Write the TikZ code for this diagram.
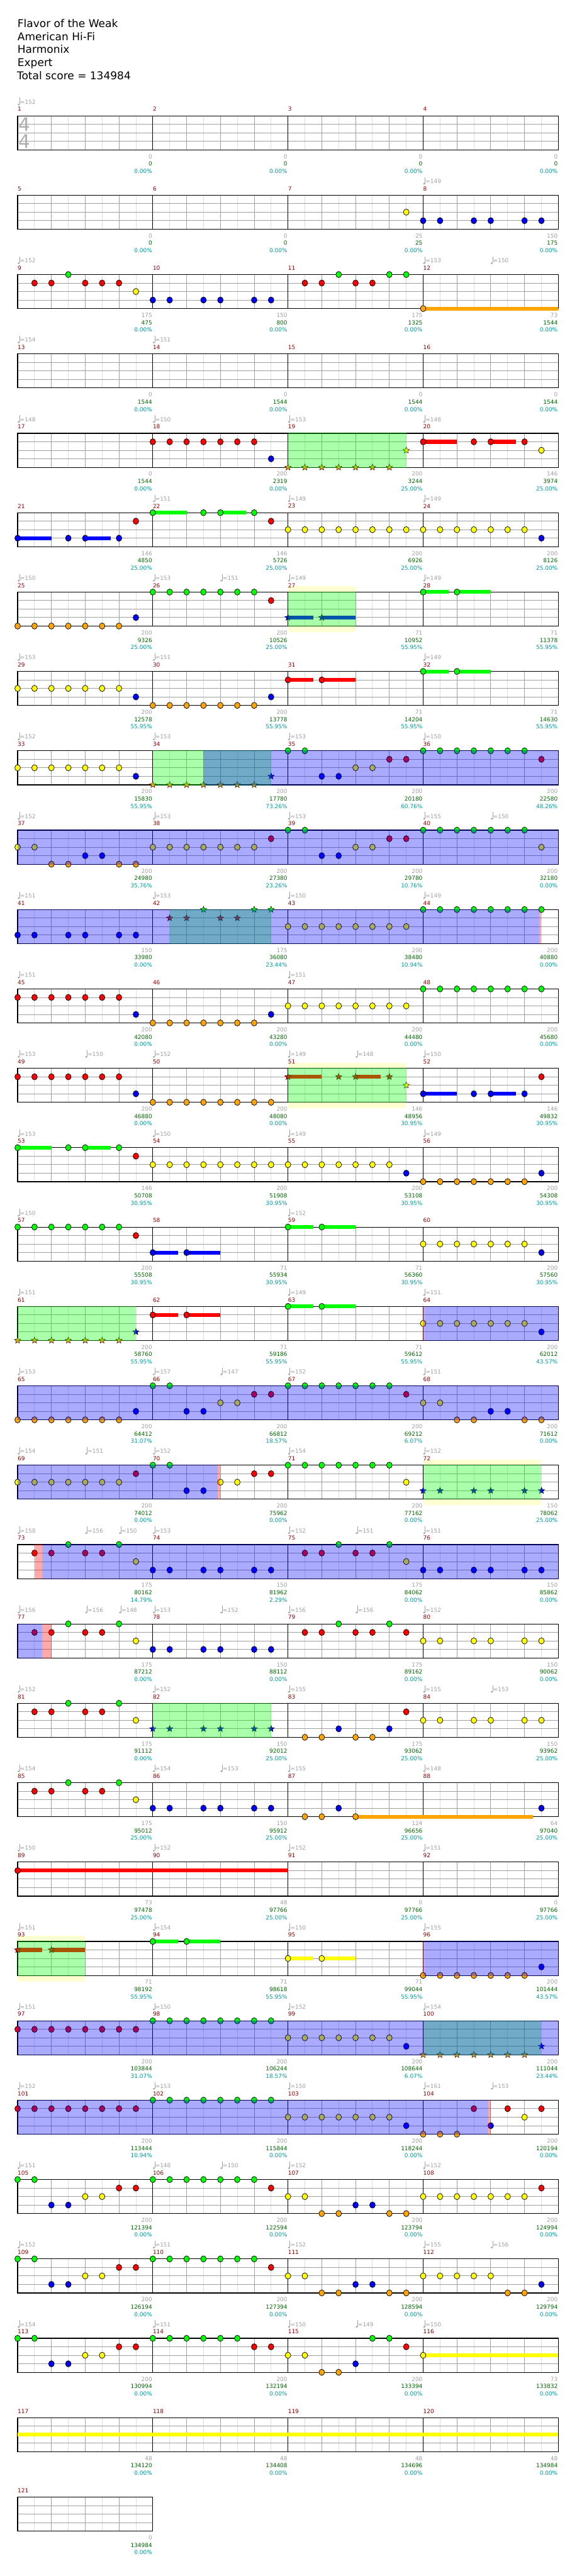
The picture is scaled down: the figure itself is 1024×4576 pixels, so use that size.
\documentclass[tikz,border=0pt]{standalone}
\usepackage{fontspec}
\setmainfont{DejaVu Sans}
\usetikzlibrary{shapes.geometric}
\definecolor{cg}{RGB}{0,255,0}
\definecolor{cr}{RGB}{255,0,0}
\definecolor{cy}{RGB}{255,255,0}
\definecolor{cb}{RGB}{0,0,255}
\definecolor{co}{RGB}{255,165,0}
\definecolor{mred}{RGB}{139,0,0}
\definecolor{tgray}{RGB}{160,160,160}
\definecolor{sgreen}{RGB}{0,100,0}
\definecolor{tcyan}{RGB}{0,153,153}
\definecolor{lgridc}{RGB}{221,221,221}
\definecolor{dgridc}{RGB}{160,160,160}
\definecolor{ybg}{RGB}{255,255,210}
\definecolor{tsig}{RGB}{175,175,175}
\tikzset{
 notec/.style={draw=black,line width=0.8},
 starn/.style={star,star points=5,star point ratio=2.3,minimum size=12,inner sep=0,draw=black,line width=0.5},
 lgrid/.style={lgridc,line width=1},
 dgrid/.style={dgridc,line width=1},
 mnum/.style={anchor=west,inner sep=0,text=mred,font=\fontsize{10}{12}\selectfont},
 tpn/.style={anchor=west,inner sep=0,text=tgray,font=\fontsize{10}{12}\selectfont},
 lgry/.style={anchor=east,inner sep=0,text=tgray,font=\fontsize{10}{12}\selectfont},
 lgrn/.style={anchor=east,inner sep=0,text=sgreen,font=\fontsize{10}{12}\selectfont},
 lcyn/.style={anchor=east,inner sep=0,text=tcyan,font=\fontsize{10}{12}\selectfont},
 ttl/.style={anchor=base west,inner sep=0,font=\fontsize{19}{23}\selectfont},
 ovl/.style={opacity=0.333}
}
\newcommand\nt[4]{\foreach \p in {#4}{\filldraw[notec,fill=#3] ({31.3+30*\p},{205.7+141*#1+15.1*#2}) ellipse (5 and 5.5);}}
\newcommand\st[4]{\foreach \p in {#4}{\node[starn,fill=#3] at ({31.3+30*\p},{205.7+141*#1+15.1*#2}) {};}}
\newcommand\sus[5]{\fill[#3] ({31.3+30*#4},{205.7+141*#1+15.1*#2-3.4}) rectangle ({31.3+30*#4+#5},{205.7+141*#1+15.1*#2+3.4});}
\newcommand\staffbase[4]{%
 \pgfmathsetmacro\rT{205.7+141*#1}%
 \fill[white] (31.3,\rT) rectangle (#2,{\rT+60.5});
 \foreach \k in {#3} \draw[lgrid] ({31.3+30*\k},\rT) -- ({31.3+30*\k},{\rT+60.5});
 \foreach \k in {#4} \draw[dgrid] ({31.3+30*\k},\rT) -- ({31.3+30*\k},{\rT+60.5});
 \foreach \l in {1,2,3} \draw[dgrid] (31.3,{\rT+15.1*\l}) -- (#2,{\rT+15.1*\l});
}
\newcommand\staff[1]{%
 \staffbase{#1}{991.3}{1,3,...,31}{2,4,6,10,12,14,18,20,22,26,28,30}%
 \pgfmathsetmacro\rT{205.7+141*#1}%
 \foreach \k in {8,16,24} \draw[black,line width=1] ({31.3+30*\k},\rT) -- ({31.3+30*\k},{\rT+60.5});
 \draw[black,line width=1.3] (31.3,\rT) rectangle (991.3,{\rT+60.5});
}
\newcommand\ml[5]{%
 \pgfmathsetmacro\rT{205.7+141*#1}%
 \pgfmathsetmacro\xm{31.3+240*#2}%
 \pgfmathtruncatemacro\mn{4*#1+#2+1}%
 \node[mnum] (m\mn) at (\xm,{\rT-11.7}) {\mn};
 \node[lgry] (g\mn) at ({\xm+239},{\rT+72.3}) {#3};
 \node[lgrn] (s\mn) at ({\xm+239},{\rT+85.3}) {#4};
 \node[lcyn] (c\mn) at ({\xm+239},{\rT+98.3}) {#5\%};
}
\newcommand\rl[2]{\foreach \qa/\qb/\qc/\qd in {#2}{\ml{#1}{\qa}{\qb}{\qc}{\qd}}}
\newcommand\tp[3]{%
 \pgfmathsetmacro\rT{205.7+141*#1}%
 \pgfmathsetmacro\xm{31.3+30*#2}%
 \fill[tgray] ({\xm+1.8},{\rT-20.2}) ellipse (1.9 and 1.5);
 \draw[tgray,line width=0.8] ({\xm+3.4},{\rT-20.5}) -- ({\xm+3.4},{\rT-32});
 \node[tpn] at ({\xm+4.2},{\rT-24.7}) {=#3};
}
\newcommand\tps[2]{\foreach \qe/\qf in {#2}{\tp{#1}{\qe}{\qf}}}
\newcommand\ov[4]{\pgfmathsetmacro\rT{205.7+141*#1}\fill[#4,ovl] (#2,{\rT-0.7}) rectangle (#3,{\rT+61.2});}
\newcommand\yb[3]{\pgfmathsetmacro\rT{205.7+141*#1}\fill[ybg] (#2,{\rT-10}) rectangle (#3,{\rT+71});}
\begin{document}
\begin{tikzpicture}[x=1pt,y=-1pt]
\useasboundingbox (0,0) rectangle (1024,4576);
\fill[white] (0,0) rectangle (1024,4576);
% title
\node[ttl] (t1) at (31,48.5) {Flavor of the Weak};
\node[ttl] (t2) at (31,71.7) {American Hi-Fi};
\node[ttl] (t3) at (31,94.9) {Harmonix};
\node[ttl] (t4) at (31,118.1) {Expert};
\node[ttl] (t5) at (30,141.3) {Total score = 134984};
% yellow backgrounds
\yb{6}{511.3}{631.3}
\yb{12}{511.3}{721.3}
\yb{17}{751.3}{961.3}
\yb{23}{31.3}{151.3}
% staffs
\foreach \r in {0,...,29} {\staff{\r}}
\staffbase{30}{271.3}{1,3,5,7}{2,4,6}
\draw[black,line width=1.3] (31.3,4435.7) rectangle (271.3,4496.2);
% time signature
\node[inner sep=0,text=tsig,font=\fontsize{33}{33}\selectfont] (ts1) at (44,221.3) {4};
\node[inner sep=0,text=tsig,font=\fontsize{33}{33}\selectfont] (ts2) at (44,250.8) {4};
% tempos
\tps{0}{0/152}
\tps{1}{24/149}
\tps{2}{0/152,24/153,28/150}
\tps{3}{0/154,8/151}
\tps{4}{0/148,8/150,16/153,24/148}
\tps{5}{8/151,16/149,24/149}
\tps{6}{0/150,8/153,12/151,16/149,24/149}
\tps{7}{0/153,8/151,24/149}
\tps{8}{0/152,8/153,16/153,24/150}
\tps{9}{0/152,8/153,16/153,24/155,28/150}
\tps{10}{0/151,8/153,16/150,24/149}
\tps{11}{0/151,16/151}
\tps{12}{0/153,4/150,8/152,16/149,20/148,24/150}
\tps{13}{0/153,8/150,16/149,24/149}
\tps{14}{0/150,16/152}
\tps{15}{0/151,16/149,24/151}
\tps{16}{0/153,8/157,12/147,16/152,24/151}
\tps{17}{0/154,4/151,8/152,16/154,24/152}
\tps{18}{0/158,4/156,6/150,8/153,16/152,20/151,24/151}
\tps{19}{0/156,4/156,6/148,8/153,12/152,16/156,20/156,24/152}
\tps{20}{0/152,8/152,16/155,24/155,28/153}
\tps{21}{0/154,8/154,12/153,16/155,24/148}
\tps{22}{0/150,8/152,16/152,24/151}
\tps{23}{0/151,8/154,16/150,24/155}
\tps{24}{0/151,8/150,16/152,24/154}
\tps{25}{0/152,8/153,16/150,24/161,28/153}
\tps{26}{0/151,8/148,12/150,16/152,24/152}
\tps{27}{0/152,8/151,16/152,24/155,28/156}
\tps{28}{0/154,8/151,16/150,20/149,24/150}
% labels
\rl{0}{0/0/0/0.00,1/0/0/0.00,2/0/0/0.00,3/0/0/0.00}
\rl{1}{0/0/0/0.00,1/0/0/0.00,2/25/25/0.00,3/150/175/0.00}
\rl{2}{0/175/475/0.00,1/150/800/0.00,2/175/1325/0.00,3/73/1544/0.00}
\rl{3}{0/0/1544/0.00,1/0/1544/0.00,2/0/1544/0.00,3/0/1544/0.00}
\rl{4}{0/0/1544/0.00,1/200/2319/0.00,2/200/3244/25.00,3/146/3974/25.00}
\rl{5}{0/146/4850/25.00,1/146/5726/25.00,2/200/6926/25.00,3/200/8126/25.00}
\rl{6}{0/200/9326/25.00,1/200/10526/25.00,2/71/10952/55.95,3/71/11378/55.95}
\rl{7}{0/200/12578/55.95,1/200/13778/55.95,2/71/14204/55.95,3/71/14630/55.95}
\rl{8}{0/200/15830/55.95,1/200/17780/73.26,2/200/20180/60.76,3/200/22580/48.26}
\rl{9}{0/200/24980/35.76,1/200/27380/23.26,2/200/29780/10.76,3/200/32180/0.00}
\rl{10}{0/150/33980/0.00,1/175/36080/23.44,2/200/38480/10.94,3/200/40880/0.00}
\rl{11}{0/200/42080/0.00,1/200/43280/0.00,2/200/44480/0.00,3/200/45680/0.00}
\rl{12}{0/200/46880/0.00,1/200/48080/0.00,2/146/48956/30.95,3/146/49832/30.95}
\rl{13}{0/146/50708/30.95,1/200/51908/30.95,2/200/53108/30.95,3/200/54308/30.95}
\rl{14}{0/200/55508/30.95,1/71/55934/30.95,2/71/56360/30.95,3/200/57560/30.95}
\rl{15}{0/200/58760/55.95,1/71/59186/55.95,2/71/59612/55.95,3/200/62012/43.57}
\rl{16}{0/200/64412/31.07,1/200/66812/18.57,2/200/69212/6.07,3/200/71612/0.00}
\rl{17}{0/200/74012/0.00,1/200/75962/0.00,2/200/77162/0.00,3/150/78062/25.00}
\rl{18}{0/175/80162/14.79,1/150/81962/2.29,2/175/84062/0.00,3/150/85862/0.00}
\rl{19}{0/175/87212/0.00,1/150/88112/0.00,2/175/89162/0.00,3/150/90062/0.00}
\rl{20}{0/175/91112/0.00,1/150/92012/25.00,2/175/93062/25.00,3/150/93962/25.00}
\rl{21}{0/175/95012/25.00,1/150/95912/25.00,2/124/96656/25.00,3/64/97040/25.00}
\rl{22}{0/73/97478/25.00,1/48/97766/25.00,2/0/97766/25.00,3/0/97766/25.00}
\rl{23}{0/71/98192/55.95,1/71/98618/55.95,2/71/99044/55.95,3/200/101444/43.57}
\rl{24}{0/200/103844/31.07,1/200/106244/18.57,2/200/108644/6.07,3/200/111044/23.44}
\rl{25}{0/200/113444/10.94,1/200/115844/0.00,2/200/118244/0.00,3/200/120194/0.00}
\rl{26}{0/200/121394/0.00,1/200/122594/0.00,2/200/123794/0.00,3/200/124994/0.00}
\rl{27}{0/200/126194/0.00,1/200/127394/0.00,2/200/128594/0.00,3/200/129794/0.00}
\rl{28}{0/200/130994/0.00,1/200/132194/0.00,2/200/133394/0.00,3/73/133832/0.00}
\rl{29}{0/48/134120/0.00,1/48/134408/0.00,2/48/134696/0.00,3/48/134984/0.00}
\rl{30}{0/0/134984/0.00}
% notes
\nt{1}{2}{cy}{23}\nt{1}{3}{cb}{24,25,27,28,30,31}
\nt{2}{1}{cr}{1,2,4,5,6,17,18,20,21}\nt{2}{0}{cg}{3,19,22,23}\nt{2}{2}{cy}{7}\nt{2}{3}{cb}{8,9,11,12,14,15}\sus{2}{4}{co}{24}{240}\nt{2}{4}{co}{24}
\nt{4}{1}{cr}{8,...,14}\nt{4}{3}{cb}{15}\st{4}{4}{co}{16,...,22}\st{4}{2}{cy}{23}\sus{4}{1}{cr}{24}{60}\sus{4}{1}{cr}{28}{45}\nt{4}{1}{cr}{24,27,28,30}\nt{4}{2}{cy}{31}
\sus{5}{3}{cb}{0}{60}\sus{5}{3}{cb}{4}{45}\nt{5}{3}{cb}{0,3,4,6,31}\nt{5}{1}{cr}{7,15}\sus{5}{0}{cg}{8}{60}\sus{5}{0}{cg}{12}{45}\nt{5}{0}{cg}{8,11,12,14}\nt{5}{2}{cy}{16,...,30}
\nt{6}{4}{co}{0,...,6}\nt{6}{3}{cb}{7}\nt{6}{0}{cg}{8,...,14}\nt{6}{1}{cr}{15}\sus{6}{3}{cb}{16}{45}\sus{6}{3}{cb}{18}{60}\st{6}{3}{cb}{16,18}\sus{6}{0}{cg}{24}{45}\sus{6}{0}{cg}{26}{60}\nt{6}{0}{cg}{24,26}
\nt{7}{2}{cy}{0,...,6}\nt{7}{3}{cb}{7,15}\nt{7}{4}{co}{8,...,14}\sus{7}{1}{cr}{16}{45}\sus{7}{1}{cr}{18}{60}\nt{7}{1}{cr}{16,18}\sus{7}{0}{cg}{24}{45}\sus{7}{0}{cg}{26}{60}\nt{7}{0}{cg}{24,26}
\nt{8}{2}{cy}{0,1,2,3,4,5,6,20,21}\nt{8}{3}{cb}{7,18,19}\st{8}{4}{co}{8,...,14}\st{8}{3}{cb}{15}\nt{8}{0}{cg}{16,17,24,25,26,27,28,29,30}\nt{8}{1}{cr}{22,23,31}
\nt{9}{2}{cy}{0,1}\nt{9}{4}{co}{2,3,6,7}\nt{9}{3}{cb}{4,5}\nt{9}{2}{cy}{8,...,14}\nt{9}{1}{cr}{15}\nt{9}{0}{cg}{16,17}\nt{9}{3}{cb}{18,19}\nt{9}{2}{cy}{20,21}\nt{9}{1}{cr}{22,23}\nt{9}{0}{cg}{24,...,30}\nt{9}{2}{cy}{31}
\nt{10}{3}{cb}{0,1,3,4,6,7}\st{10}{1}{cr}{9,10,12,13}\st{10}{0}{cg}{11,14,15}\nt{10}{2}{cy}{16,...,23}\nt{10}{0}{cg}{24,...,31}
\nt{11}{1}{cr}{0,...,6}\nt{11}{3}{cb}{7,15}\nt{11}{4}{co}{8,...,14}\nt{11}{2}{cy}{16,...,23}\nt{11}{0}{cg}{24,...,31}
\nt{12}{1}{cr}{0,...,6}\nt{12}{3}{cb}{7}\nt{12}{4}{co}{8,...,15}\sus{12}{1}{cr}{16}{60}\sus{12}{1}{cr}{20}{45}\st{12}{1}{cr}{16,19,20,22}\st{12}{2}{cy}{23}\sus{12}{3}{cb}{24}{60}\sus{12}{3}{cb}{28}{45}\nt{12}{3}{cb}{24,27,28,30}\nt{12}{1}{cr}{31}
\sus{13}{0}{cg}{0}{60}\sus{13}{0}{cg}{4}{45}\nt{13}{0}{cg}{0,3,4,6}\nt{13}{1}{cr}{7}\nt{13}{2}{cy}{8,...,22}\nt{13}{3}{cb}{23,31}\nt{13}{4}{co}{24,...,30}
\nt{14}{0}{cg}{0,...,6}\nt{14}{1}{cr}{7}\sus{14}{3}{cb}{8}{45}\sus{14}{3}{cb}{10}{60}\nt{14}{3}{cb}{8,10,31}\sus{14}{0}{cg}{16}{45}\sus{14}{0}{cg}{18}{60}\nt{14}{0}{cg}{16,18}\nt{14}{2}{cy}{24,...,30}
\st{15}{4}{co}{0,...,6}\st{15}{3}{cb}{7}\sus{15}{1}{cr}{8}{45}\sus{15}{1}{cr}{10}{60}\nt{15}{1}{cr}{8,10}\sus{15}{0}{cg}{16}{45}\sus{15}{0}{cg}{18}{60}\nt{15}{0}{cg}{16,18}\nt{15}{2}{cy}{24,...,30}\nt{15}{3}{cb}{31}
\nt{16}{4}{co}{0,...,6}\nt{16}{3}{cb}{7,10,11}\nt{16}{0}{cg}{8,9}\nt{16}{2}{cy}{12,13}\nt{16}{1}{cr}{14,15,23}\nt{16}{0}{cg}{16,...,22}\nt{16}{2}{cy}{24,25}\nt{16}{4}{co}{26,27,30,31}\nt{16}{3}{cb}{28,29}
\nt{17}{2}{cy}{0,...,6}\nt{17}{1}{cr}{7,14,15}\nt{17}{0}{cg}{8,9}\nt{17}{3}{cb}{10,11}\nt{17}{2}{cy}{12,13,23}\nt{17}{0}{cg}{16,...,22}\st{17}{3}{cb}{24,25,27,28,30,31}
\nt{18}{1}{cr}{1,2,4,5,17,18,20,21}\nt{18}{0}{cg}{3,6,19,22}\nt{18}{2}{cy}{7,23}\nt{18}{3}{cb}{8,9,11,12,14,15,24,25,27,28,30,31}
\nt{19}{1}{cr}{1,2,4,5,17,18,20,21,23}\nt{19}{0}{cg}{3,6,19,22}\nt{19}{2}{cy}{7,24,25,27,28,30,31}\nt{19}{3}{cb}{8,9,11,12,14,15}
\nt{20}{1}{cr}{1,2,4,5,23}\nt{20}{0}{cg}{3,6}\nt{20}{2}{cy}{7,24,25,27,28,30,31}\st{20}{3}{cb}{8,9,11,12,14,15}\nt{20}{4}{co}{17,18,20,21}\nt{20}{3}{cb}{19,22}
\nt{21}{1}{cr}{1,2,4,5}\nt{21}{0}{cg}{3,6}\nt{21}{2}{cy}{7}\nt{21}{3}{cb}{8,9,11,12,14,15,19,31}\sus{21}{4}{co}{20}{315}\nt{21}{4}{co}{17,18,20}
\sus{22}{1}{cr}{0}{480}\nt{22}{1}{cr}{0}
\sus{23}{1}{cr}{0}{44}\sus{23}{1}{cr}{2}{60}\st{23}{1}{cr}{0,2}\sus{23}{0}{cg}{8}{45}\sus{23}{0}{cg}{10}{60}\nt{23}{0}{cg}{8,10}\sus{23}{2}{cy}{16}{45}\sus{23}{2}{cy}{18}{60}\nt{23}{2}{cy}{16,18}\nt{23}{4}{co}{24,...,30}\nt{23}{3}{cb}{31}
\nt{24}{1}{cr}{0,...,7}\nt{24}{0}{cg}{8,...,15}\nt{24}{2}{cy}{16,...,22}\nt{24}{3}{cb}{23}\st{24}{4}{co}{24,...,30}\st{24}{3}{cb}{31}
\nt{25}{1}{cr}{0,...,7}\nt{25}{0}{cg}{8,...,15}\nt{25}{2}{cy}{16,...,22}\nt{25}{3}{cb}{23,28}\nt{25}{4}{co}{24,25,26}\nt{25}{1}{cr}{27,29,31}\nt{25}{2}{cy}{30}
\nt{26}{0}{cg}{0,1}\nt{26}{3}{cb}{2,3,20,21}\nt{26}{2}{cy}{4,5,16,17}\nt{26}{1}{cr}{6,7,15,31}\nt{26}{0}{cg}{8,...,14}\nt{26}{4}{co}{18,19,22,23}\nt{26}{2}{cy}{24,...,30}
\nt{27}{0}{cg}{0,1}\nt{27}{3}{cb}{2,3,20,21,31}\nt{27}{2}{cy}{4,5,16,17}\nt{27}{1}{cr}{6,7,15}\nt{27}{0}{cg}{8,...,14}\nt{27}{4}{co}{18,19,22,23,29,30}\nt{27}{2}{cy}{24,...,28}
\nt{28}{0}{cg}{0,1}\nt{28}{3}{cb}{2,3,20}\nt{28}{2}{cy}{4,5,16,17}\nt{28}{1}{cr}{6,7,14,15,23}\nt{28}{0}{cg}{8,...,13}\nt{28}{4}{co}{18,19}\nt{28}{0}{cg}{21,22}\sus{28}{2}{cy}{24}{240}\nt{28}{2}{cy}{24}
\sus{29}{2}{cy}{0}{960}
% star power phrases (green)
\ov{4}{511.3}{721.3}{cg}
\ov{6}{511.3}{631.3}{cg}
\ov{8}{271.3}{481.3}{cg}
\ov{10}{301.3}{481.3}{cg}
\ov{12}{511.3}{721.3}{cg}
\ov{15}{31.3}{241.3}{cg}
\ov{17}{751.3}{961.3}{cg}
\ov{20}{271.3}{481.3}{cg}
\ov{23}{31.3}{151.3}{cg}
\ov{24}{751.3}{961.3}{cg}
% activations (blue)
\ov{8}{361.3}{991.3}{cb}
\ov{9}{31.3}{991.3}{cb}
\ov{10}{31.3}{957}{cb}
\ov{15}{752.5}{991.3}{cb}
\ov{16}{31.3}{991.3}{cb}
\ov{17}{31.3}{387}{cb}
\ov{18}{75}{991.3}{cb}
\ov{19}{31.3}{75}{cb}
\ov{23}{752.5}{991.3}{cb}
\ov{24}{31.3}{991.3}{cb}
\ov{25}{31.3}{867.4}{cb}
% red marks
\ov{10}{957}{961.3}{cr}
\ov{15}{750.8}{752.5}{cr}
\ov{17}{387}{391.3}{cr}
\ov{18}{61.3}{75}{cr}
\ov{19}{75}{91.3}{cr}
\ov{23}{750.8}{752.5}{cr}
\ov{25}{867.4}{871.3}{cr}
\end{tikzpicture}
\end{document}
